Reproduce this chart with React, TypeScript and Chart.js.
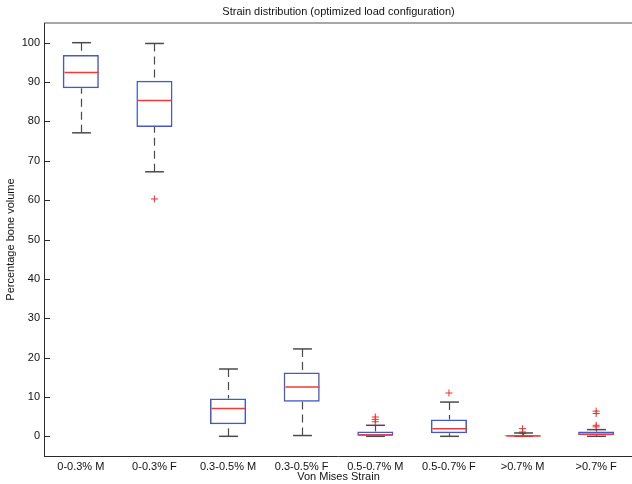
import React, { useEffect, useRef } from 'react';
import { Chart, registerables } from 'chart.js';

Chart.register(...registerables);

const categories = ['0-0.3% M', '0-0.3% F', '0.3-0.5% M', '0.3-0.5% F', '0.5-0.7% M', '0.5-0.7% F', '>0.7% M', '>0.7% F'];
const whiskerLow = [77.1, 67.2, 0, 0.2, 0, 0, 0, 0];
const quartile1 = [88.4, 78.6, 3.05, 8.8, 0.15, 0.75, 0, 0.25];
const medians = [92.4, 85.3, 7.05, 12.5, 0.35, 1.9, 0.1, 0.5];
const quartile3 = [96.9, 90.3, 9.6, 16.2, 1.25, 4.3, 0.25, 1.2];
const whiskerHigh = [100, 99.8, 17.1, 22.2, 2.8, 8.7, 0.85, 1.7];
const outlierCategories = ['0-0.3% F', '0.5-0.7% M', '0.5-0.7% M', '0.5-0.7% M', '0.5-0.7% F', '>0.7% M', '>0.7% M', '>0.7% M', '>0.7% F', '>0.7% F', '>0.7% F', '>0.7% F'];
const outlierValues = [60.3, 4.9, 4.3, 3.7, 11.0, 1.95, 1.1, 0.7, 6.4, 5.8, 2.8, 2.4];
const yTickValues = [0, 10, 20, 30, 40, 50, 60, 70, 80, 90, 100];

const FONT = 'Liberation Sans, Arial, Helvetica, sans-serif';
const BOX_RATIO = 0.49;
const CAP_RATIO = 0.256;

export default function App() {
  const ref = useRef<HTMLCanvasElement>(null);

  useEffect(() => {
    if (!ref.current) return;

    const boxParts = {
      id: 'boxParts',
      beforeDatasetsDraw(chart: any) {
        const { ctx, scales } = chart;
        const xs = scales.x, ys = scales.y;
        ctx.save();
        ctx.strokeStyle = '#4a4a4a';
        ctx.lineWidth = 1.2;
        ctx.setLineDash([8, 5]);
        categories.forEach((_, i) => {
          const x = Math.round(xs.getPixelForValue(i)) + 0.5;
          ctx.beginPath();
          ctx.moveTo(x, ys.getPixelForValue(whiskerHigh[i]));
          ctx.lineTo(x, ys.getPixelForValue(quartile3[i]));
          ctx.stroke();
          ctx.beginPath();
          ctx.moveTo(x, ys.getPixelForValue(whiskerLow[i]));
          ctx.lineTo(x, ys.getPixelForValue(quartile1[i]));
          ctx.stroke();
        });
        ctx.restore();
      },
      afterDatasetsDraw(chart: any) {
        const { ctx, scales } = chart;
        const xs = scales.x, ys = scales.y;
        const step = xs.getPixelForValue(1) - xs.getPixelForValue(0);
        ctx.save();
        categories.forEach((_, i) => {
          const x = Math.round(xs.getPixelForValue(i)) + 0.5;
          const capHalf = (step * CAP_RATIO) / 2;
          ctx.strokeStyle = '#4a4a4a';
          ctx.lineWidth = 1.5;
          [whiskerHigh[i], whiskerLow[i]].forEach((v) => {
            const y = ys.getPixelForValue(v);
            ctx.beginPath();
            ctx.moveTo(x - capHalf, y);
            ctx.lineTo(x + capHalf, y);
            ctx.stroke();
          });
          const boxHalf = (step * BOX_RATIO) / 2;
          const ym = ys.getPixelForValue(medians[i]);
          ctx.strokeStyle = '#f03a3a';
          ctx.lineWidth = 1.5;
          ctx.beginPath();
          ctx.moveTo(x - boxHalf + 1, ym);
          ctx.lineTo(x + boxHalf - 1, ym);
          ctx.stroke();
        });
        ctx.restore();
      },
      afterDraw(chart: any) {
        const { ctx, chartArea, scales } = chart;
        const ys = scales.y;
        const { left, right, top, bottom } = chartArea;
        ctx.save();
        ctx.strokeStyle = '#8a8a8a';
        ctx.lineWidth = 1.5;
        ctx.beginPath();
        ctx.moveTo(left, top);
        ctx.lineTo(right, top);
        ctx.stroke();
        ctx.strokeStyle = '#2a2a2a';
        ctx.lineWidth = 1;
        ctx.beginPath();
        ctx.moveTo(left + 0.5, top);
        ctx.lineTo(left + 0.5, bottom);
        ctx.moveTo(left, bottom + 0.5);
        ctx.lineTo(right, bottom + 0.5);
        ctx.stroke();
        ctx.beginPath();
        yTickValues.forEach((v) => {
          const y = Math.round(ys.getPixelForValue(v)) + 0.5;
          ctx.moveTo(left, y);
          ctx.lineTo(left + 6, y);
        });
        ctx.stroke();
        ctx.restore();
      },
    };

    const chart = new Chart(ref.current, {
      type: 'bar',
      data: {
        labels: categories,
        datasets: [
          {
            type: 'bar',
            data: quartile1.map((v, i) => [v, quartile3[i]]),
            backgroundColor: 'rgba(0,0,0,0)',
            borderColor: '#4658c4',
            borderWidth: 1.5,
            borderSkipped: false,
            barPercentage: BOX_RATIO,
            categoryPercentage: 1,
            order: 2,
          } as any,
          {
            type: 'scatter',
            data: outlierCategories.map((c, i) => ({ x: c, y: outlierValues[i] })),
            pointStyle: 'cross',
            pointRadius: 3.5,
            borderColor: '#ff2a2a',
            backgroundColor: '#ff2a2a',
            borderWidth: 1,
            order: 1,
          } as any,
        ],
      },
      options: {
        responsive: false,
        animation: false,
        events: [],
        layout: { padding: 0 },
        plugins: {
          legend: { display: false },
          tooltip: { enabled: false },
          title: {
            display: true,
            text: 'Strain distribution (optimized load configuration)',
            fullSize: false,
            color: '#111',
            font: { family: FONT, size: 11, weight: 'normal' },
            padding: { top: 5, bottom: 4.8 },
          },
        },
        scales: {
          x: {
            type: 'category',
            offset: true,
            grid: { display: false, drawTicks: false },
            border: { display: false },
            ticks: { color: '#111', font: { family: FONT, size: 11 }, padding: 4, maxRotation: 0, autoSkip: false },
            title: { display: true, text: 'Von Mises Strain', color: '#111', font: { family: FONT, size: 11 }, padding: 0 },
            afterFit: (s: any) => { s.height = 28; },
          },
          y: {
            type: 'linear',
            min: -5,
            max: 105,
            grid: { display: false, drawTicks: false },
            border: { display: false },
            afterBuildTicks: (s: any) => { s.ticks = yTickValues.map((v) => ({ value: v })); },
            ticks: { color: '#111', font: { family: FONT, size: 11 }, padding: 4 },
            title: { display: true, text: 'Percentage bone volume', color: '#111', font: { family: FONT, size: 11 }, padding: { top: 4, bottom: 0 } },
            afterFit: (s: any) => { s.width = 44; },
          },
        },
      },
      plugins: [boxParts],
    });

    return () => chart.destroy();
  }, []);

  return (
    <div style={{ position: 'fixed', left: 0, top: 0, width: 632, height: 484, overflow: 'hidden', background: '#fff' }}>
      <canvas ref={ref} width={638} height={484} style={{ display: 'block', width: 638, height: 484 }} />
    </div>
  );
}
